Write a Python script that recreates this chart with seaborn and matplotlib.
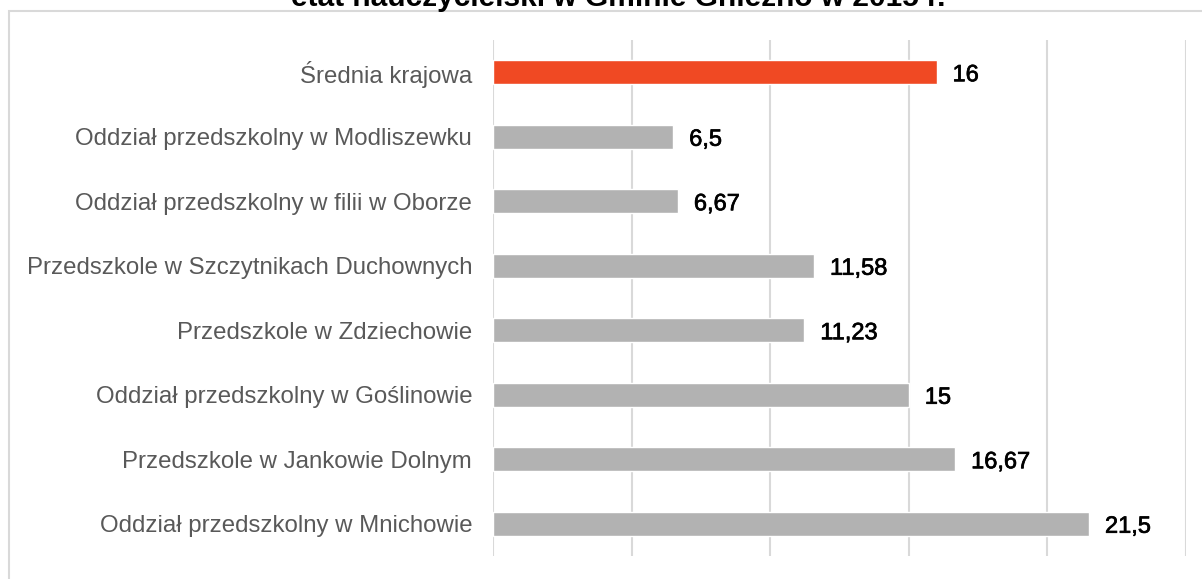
import numpy as np
import pandas as pd
import seaborn as sns
import matplotlib.pyplot as plt
import matplotlib.patheffects as pe
from matplotlib.patches import Rectangle

# data (top to bottom as in the chart)
categories = [
    "Średnia krajowa",
    "Oddział przedszkolny w Modliszewku",
    "Oddział przedszkolny w filii w Oborze",
    "Przedszkole w Szczytnikach Duchownych",
    "Przedszkole w Zdziechowie",
    "Oddział przedszkolny w Goślinowie",
    "Przedszkole w Jankowie Dolnym",
    "Oddział przedszkolny w Mnichowie",
]
values = [16, 6.5, 6.67, 11.58, 11.23, 15, 16.67, 21.5]
bar_colors = ["#F04923"] + ["#B2B2B2"] * 7
title = "etat nauczycielski w Gminie Gniezno w 2015 r."

df = pd.DataFrame({"name": categories, "value": values})

sns.set_style("white")
plt.rcParams['font.family'] = ['Liberation Sans', 'DejaVu Sans']

W, H = 1202, 579
fig = plt.figure(figsize=(W / 100, H / 100), dpi=100)
ax = fig.add_axes([493 / W, 1 - 556 / H, (1186 - 493) / W, (556 - 40) / H])

sns.barplot(data=df, x="value", y="name", hue="name", palette=bar_colors,
            orient="h", width=0.37, legend=False, ax=ax, saturation=1)

ax.set_xlim(0, 25)
ax.set_xticks([0, 5, 10, 15, 20, 25])
ax.set_xticklabels([])
ax.xaxis.grid(True, color="#d9d9d9", linewidth=1.5)
ax.set_axisbelow(True)
for s in ax.spines.values():
    s.set_visible(False)
ax.tick_params(axis="y", length=0, pad=15, labelsize=17.3, labelcolor="#595959")
ax.tick_params(axis="x", length=0)
ax.set_xlabel("")
ax.set_ylabel("")

# value labels (slightly heavier than regular, like the source)
for i, v in enumerate(values):
    txt = ("%g" % v).replace(".", ",")
    t = ax.annotate(txt, (v, i), xytext=(16, -3), textcoords="offset pixels",
                    va="center", ha="left", fontsize=17, color="#000000")
    t.set_path_effects([pe.withStroke(linewidth=0.5, foreground="#000000")])

# chart border (cropped on right and bottom)
fig.patches.append(Rectangle((8.5 / W, -0.1), 1.2, 1 - 10.5 / H + 0.1,
                             transform=fig.transFigure, fill=False,
                             edgecolor="#d9d9d9", linewidth=1.5))

# title, mostly cut off at the top like in the source image
fig.text(618 / W, 1 - 6 / H, title, ha="center", va="baseline",
         fontsize=21.5, fontweight="bold", color="#000000")

fig.savefig("out.png", dpi=100)
